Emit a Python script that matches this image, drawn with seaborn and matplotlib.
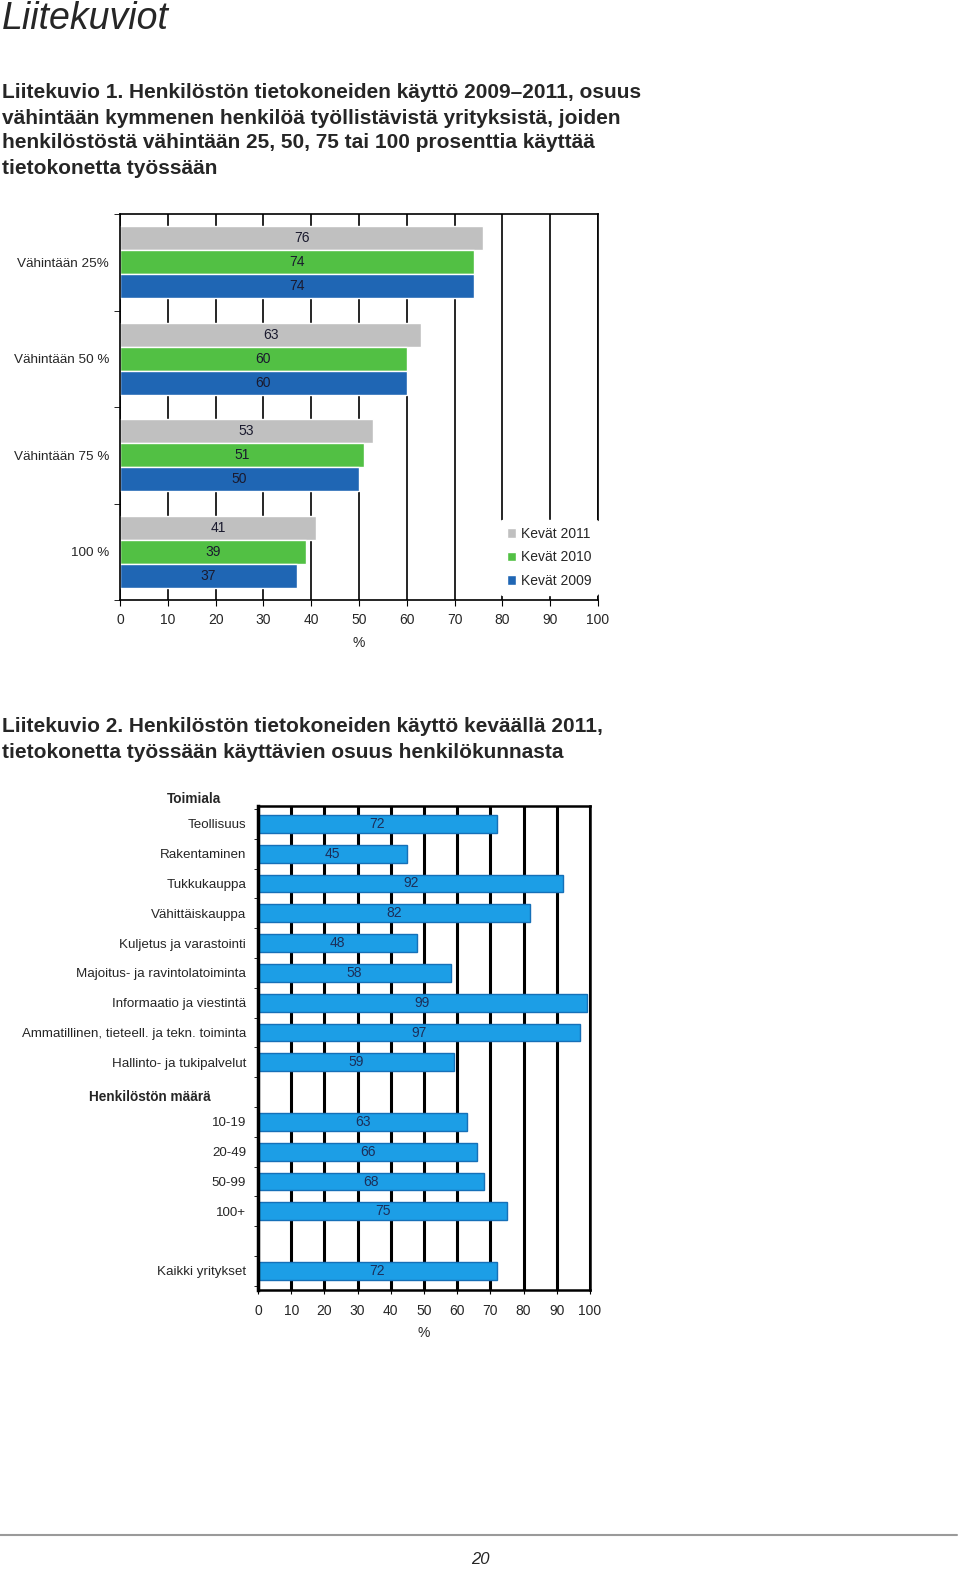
import numpy as np
import pandas as pd
import matplotlib
matplotlib.use("Agg")
import matplotlib.pyplot as plt
import matplotlib.transforms as mtransforms
from matplotlib.lines import Line2D
from matplotlib.ticker import FixedLocator
import seaborn as sns

# Liitekuvio 1: share of staff using a computer at work
groups = ["Vähintään 25%", "Vähintään 50 %", "Vähintään 75 %", "100 %"]
years = ["Kevät 2011", "Kevät 2010", "Kevät 2009"]
share_2011 = [76, 63, 53, 41]
share_2010 = [74, 60, 51, 39]
share_2009 = [74, 60, 50, 37]

# Liitekuvio 2: spring 2011, by industry and by size
industries = ["Teollisuus", "Rakentaminen", "Tukkukauppa", "Vähittäiskauppa",
              "Kuljetus ja varastointi", "Majoitus- ja ravintolatoiminta",
              "Informaatio ja viestintä", "Ammatillinen, tieteell. ja tekn. toiminta",
              "Hallinto- ja tukipalvelut"]
industry_share = [72, 45, 92, 82, 48, 58, 99, 97, 59]
sizes = ["10-19", "20-49", "50-99", "100+"]
size_share = [63, 66, 68, 75]
total_label = "Kaikki yritykset"
total_share = [72]

header_industry = "Toimiala"
header_size = "Henkilöstön määrä"

page_title = "Liitekuviot"
caption1 = ["Liitekuvio 1. Henkilöstön tietokoneiden käyttö 2009–2011, osuus",
            "vähintään kymmenen henkilöä työllistävistä yrityksistä, joiden",
            "henkilöstöstä vähintään 25, 50, 75 tai 100 prosenttia käyttää",
            "tietokonetta työssään"]
caption2 = ["Liitekuvio 2. Henkilöstön tietokoneiden käyttö keväällä 2011,",
            "tietokonetta työssään käyttävien osuus henkilökunnasta"]
page_no = "20"

sns.set_style("white")
plt.rcParams['font.family'] = ['Liberation Sans', 'DejaVu Sans']

W, H = 960, 1572
fig = plt.figure(figsize=(W / 100, H / 100), dpi=100)


def fx(px):
    return px / W


def fy(py):
    return 1 - py / H


# page texts
fig.text(fx(2), fy(19), page_title, fontsize=27, style='italic', va='center')
for i, line in enumerate(caption1):
    fig.text(fx(2), fy(93 + 25 * i), line, fontsize=15, fontweight='bold', va='center')
for i, line in enumerate(caption2):
    fig.text(fx(2), fy(727 + 25 * i), line, fontsize=15, fontweight='bold', va='center')

# ---- chart 1 ----
df1 = pd.DataFrame({
    "ryhma": groups * 3,
    "vuosi": np.repeat(years, len(groups)),
    "osuus": share_2011 + share_2010 + share_2009,
})
ax1 = fig.add_axes([fx(120), fy(600), fx(598) - fx(120), (600 - 214) / H])
sns.barplot(data=df1, y="ryhma", x="osuus", hue="vuosi", order=groups, hue_order=years,
            palette=["#c0c0c0", "#52c044", "#1f66b4"], saturation=1, width=0.75,
            errorbar=None, ax=ax1, zorder=2)
ax1.set_xlim(0, 100)
ax1.set_xticks(range(0, 101, 10))
ax1.grid(axis='x', color='black', lw=1.2)
ax1.grid(axis='y', visible=False)
ax1.set_axisbelow(True)
for c in ax1.containers:
    ax1.bar_label(c, label_type='center', fontsize=10, color='#1a1a2e')
ax1.set_ylabel("")
ax1.set_xlabel("%", fontsize=10, labelpad=6)
ax1.tick_params(axis='y', which='major', length=0, pad=8, labelsize=9.7)
ax1.yaxis.set_minor_locator(FixedLocator(np.arange(-0.5, len(groups), 1)))
ax1.tick_params(axis='y', which='minor', length=4, color='black', direction='out', left=True)
ax1.tick_params(axis='x', length=4, color='black', direction='out', bottom=True,
                labelsize=10, pad=5.5)
for s in ax1.spines.values():
    s.set_color('black')
    s.set_linewidth(1.2)
leg = ax1.legend(loc='lower left', bbox_to_anchor=(0.78, -0.005), fontsize=10,
                 frameon=True, facecolor='white', edgecolor='white', framealpha=1,
                 handlelength=0.7, handleheight=0.7, handletextpad=0.3,
                 labelspacing=0.7, borderpad=0.5, title=None)
leg.set_zorder(5)

# ---- chart 2 ----
order2 = industries + [header_size] + sizes + [" ", total_label]
df2 = pd.DataFrame({
    "luokka": industries + sizes + [total_label],
    "osuus": industry_share + size_share + total_share,
})
ax2 = fig.add_axes([fx(258), fy(1290), fx(590) - fx(258), (1290 - 806) / H])
sns.barplot(data=df2, y="luokka", x="osuus", order=order2, color="#1c9ee6", saturation=1,
            width=0.6, edgecolor="#1570b8", linewidth=1, errorbar=None, ax=ax2, zorder=2)
ax2.set_xlim(0, 100)
ax2.set_ylim(15.64, -0.6)
ax2.set_xticks(range(0, 101, 10))
ax2.grid(axis='x', color='black', lw=2.2)
ax2.grid(axis='y', visible=False)
ax2.set_axisbelow(True)
ax2.bar_label(ax2.containers[0], label_type='center', fontsize=10, color='#1b2f5a')
ylabels = ["" if lab == header_size else lab for lab in order2]
ax2.set_yticks(range(len(order2)), ylabels)
ax2.set_ylabel("")
ax2.set_xlabel("%", fontsize=10, labelpad=6)
ax2.tick_params(axis='y', which='major', length=0, pad=8.5, labelsize=9.6)
ax2.yaxis.set_minor_locator(FixedLocator(np.arange(-0.5, len(order2), 1)))
ax2.tick_params(axis='y', which='minor', length=3, color='black', direction='out', left=True)
ax2.tick_params(axis='x', length=3, color='black', direction='out', bottom=True,
                labelsize=10, pad=7)
for s in ax2.spines.values():
    s.set_color('black')
    s.set_linewidth(1.8)
ax2.spines['left'].set_linewidth(2.5)

tr = mtransforms.blended_transform_factory(ax2.transAxes, ax2.transData)
ax2.text((221 - 258) / 332, -0.85, header_industry, transform=tr, ha='right', va='center',
         fontsize=9.8, fontweight='bold')
ax2.text((211 - 258) / 332, 9.15, header_size, transform=tr, ha='right', va='center',
         fontsize=9.8, fontweight='bold')

# footer
fig.add_artist(Line2D([0, fx(957)], [fy(1535), fy(1535)], color='#9a9a9a', lw=1.5))
fig.text(fx(480), fy(1560), page_no, fontsize=12, style='italic', ha='center', va='center')

fig.savefig("out.png", dpi=100, facecolor='white')
